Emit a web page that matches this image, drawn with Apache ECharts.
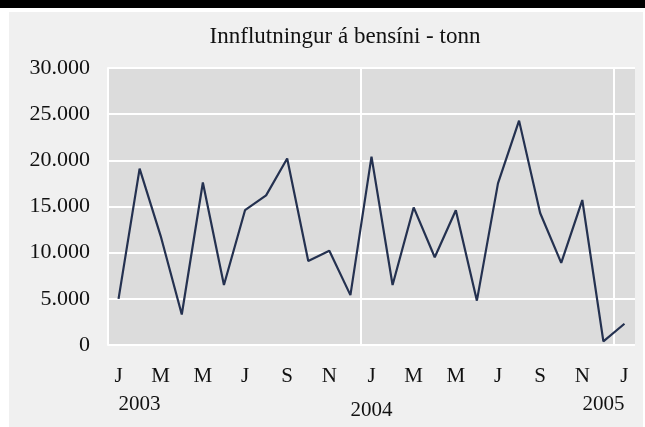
<!DOCTYPE html>
<html>
<head>
<meta charset="utf-8">
<script src="https://cdn.jsdelivr.net/npm/echarts@6/dist/echarts.min.js"></script>
<style>
  html, body { margin: 0; padding: 0; background: #fff; }
  #chart { width: 645px; height: 427px; }
</style>
</head>
<body>
<div id="chart"></div>
<script>
// monthly, Jan 2003 - Jan 2005
const categories = [
  '2003-01', '2003-02', '2003-03', '2003-04', '2003-05', '2003-06',
  '2003-07', '2003-08', '2003-09', '2003-10', '2003-11', '2003-12',
  '2004-01', '2004-02', '2004-03', '2004-04', '2004-05', '2004-06',
  '2004-07', '2004-08', '2004-09', '2004-10', '2004-11', '2004-12',
  '2005-01'
];
const monthLetters = ['J', 'F', 'M', 'A', 'M', 'J', 'J', 'Á', 'S', 'O', 'N', 'D'];
const tonn = [
  5000, 19100, 11800, 3300, 17600, 6500, 14600, 16200, 20200, 9100, 10200, 5400,
  20400, 6500, 14900, 9500, 14600, 4800, 17500, 24300, 14300, 8900, 15700, 400,
  2300
];

const font = 'Liberation Serif';
const textColor = '#111';

let myChart = echarts.init(document.getElementById('chart'));
myChart.setOption({
  backgroundColor: '#fff',
  animation: false,
  graphic: [
    { type: 'rect', shape: { x: 0, y: 0, width: 645, height: 8 }, style: { fill: '#000' }, z: -10 },
    { type: 'rect', shape: { x: 9, y: 12, width: 634, height: 415 }, style: { fill: '#f0f0f0' }, z: -10 }
  ],
  title: {
    text: 'Innflutningur á bensíni - tonn',
    left: 340,
    top: 20,
    textAlign: 'center',
    textStyle: { fontFamily: font, fontSize: 23, fontWeight: 'normal', color: textColor }
  },
  grid: {
    left: 108,
    right: 10,
    top: 68,
    bottom: 82,
    show: true,
    backgroundColor: '#dcdcdc',
    borderWidth: 0
  },
  xAxis: [
    {
      type: 'category',
      data: categories,
      boundaryGap: true,
      axisLine: { show: false },
      axisTick: { show: false },
      axisLabel: {
        interval: 1,
        margin: 21,
        fontFamily: font,
        fontSize: 21,
        color: textColor,
        formatter: v => monthLetters[parseInt(v.slice(5), 10) - 1]
      },
      splitLine: {
        show: true,
        showMaxLine: false,
        interval: (i) => i === 12 || i === 24,
        lineStyle: { color: '#fff', width: 2 }
      }
    },
    {
      type: 'category',
      data: categories,
      position: 'bottom',
      offset: 28,
      boundaryGap: true,
      axisLine: { show: false },
      axisTick: { show: false },
      splitLine: { show: false },
      axisLabel: {
        interval: (i) => i % 12 === 0,
        margin: 21,
        fontFamily: font,
        fontSize: 21,
        color: textColor,
        alignMinLabel: 'left',
        alignMaxLabel: 'right',
        formatter: v => v.slice(0, 4) === '2004' ? '{low|2004}' : v.slice(0, 4),
        rich: {
          low: { fontFamily: font, fontSize: 21, color: textColor, padding: [6, 0, 0, 0] }
        }
      }
    }
  ],
  yAxis: {
    type: 'value',
    min: 0,
    max: 30000,
    interval: 5000,
    axisLine: { show: true, lineStyle: { color: '#fff', width: 2 } },
    axisTick: { show: false },
    axisLabel: {
      margin: 18,
      fontFamily: font,
      fontSize: 22,
      color: textColor,
      formatter: v => v === 0 ? '0' : (v / 1000).toFixed(0) + '.000'
    },
    splitLine: { lineStyle: { color: '#fff', width: 2 } }
  },
  series: [
    {
      name: 'tonn',
      type: 'line',
      data: tonn,
      showSymbol: false,
      lineStyle: { color: '#243150', width: 2.2 }
    }
  ]
});
</script>
</body>
</html>
